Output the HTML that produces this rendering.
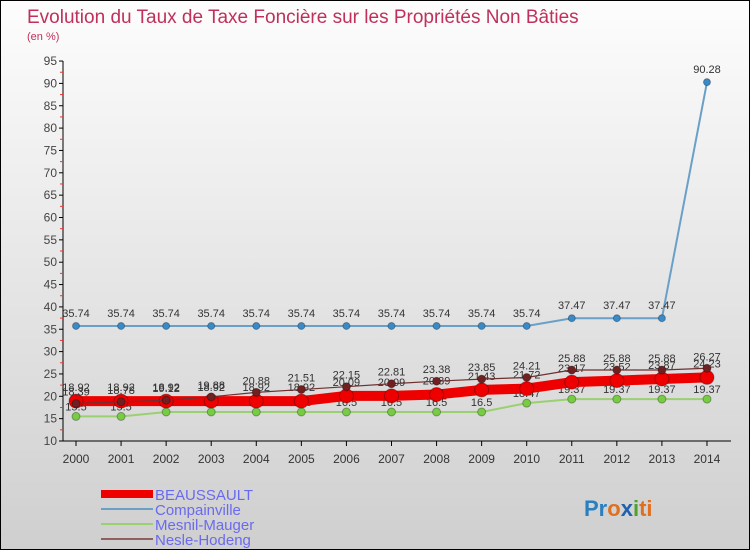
<!DOCTYPE html>
<html><head><meta charset="utf-8"><style>
body{margin:0}
#c{width:748px;height:548px;border:1px solid #000;background:linear-gradient(#fdfdfd,#cfcfcf);position:relative;font-family:"Liberation Sans",sans-serif;overflow:hidden}
</style></head><body>
<div id="c">
<svg id="s" width="748" height="548" xmlns="http://www.w3.org/2000/svg">
<text x="26" y="22" font-size="19" fill="#c0305a">Evolution du Taux de Taxe Foncière sur les Propriétés Non Bâties</text>
<text x="26" y="39" font-size="11" fill="#c0305a">(en %)</text>
<g id="ax"></g><g id="ser"></g>
<g font-size="15" fill="#6a6af0">
<rect x="100" y="489" width="52" height="8" fill="#e00"/>
<text x="154" y="499">BEAUSSAULT</text>
<rect x="100" y="507" width="52" height="2" fill="#6aa0c8"/>
<text x="154" y="514">Compainville</text>
<rect x="100" y="522" width="52" height="2" fill="#9ad070"/>
<text x="154" y="529">Mesnil-Mauger</text>
<rect x="100" y="537" width="52" height="2" fill="#906060"/>
<text x="154" y="544">Nesle-Hodeng</text>
</g>
<g font-size="22" font-weight="bold">
<text x="583" y="515"><tspan fill="#2a7fc0">Pr</tspan><tspan fill="#e07020">o</tspan><tspan fill="#2060b0">x</tspan><tspan fill="#50a030">i</tspan><tspan fill="#e07020">ti</tspan></text>
</g>
</svg></div>
<script>
const years=[2000,2001,2002,2003,2004,2005,2006,2007,2008,2009,2010,2011,2012,2013,2014];
const yTicks=[10,15,20,25,30,35,40,45,50,55,60,65,70,75,80,85,90,95];
const beaussault=[18.92,18.92,18.92,18.92,18.92,18.92,20.09,20.09,20.39,21.43,21.72,23.17,23.52,23.87,24.23];
const compainville=[35.74,35.74,35.74,35.74,35.74,35.74,35.74,35.74,35.74,35.74,35.74,37.47,37.47,37.47,90.28];
const mesnil=[15.5,15.5,16.5,16.5,16.5,16.5,16.5,16.5,16.5,16.5,18.47,19.37,19.37,19.37,19.37];
const nesle=[18.39,18.78,19.12,19.88,20.88,21.51,22.15,22.81,23.38,23.85,24.21,25.88,25.88,25.88,26.27];
const NS="http://www.w3.org/2000/svg";
const X=i=>75+i*45.07, Y=v=>440-(v-10)*4.47;
function mk(t,a,p){const e=document.createElementNS(NS,t);for(const k in a)e.setAttribute(k,a[k]);p.appendChild(e);return e;}
const ax=document.getElementById('ax'), ser=document.getElementById('ser');
const yl=mk('line',{x1:62,y1:Y(95),x2:62,y2:440,stroke:'#000'},ax);


mk('line',{x1:62,y1:440,x2:730,y2:440,stroke:'#000'},ax);
yTicks.forEach(v=>{
 mk('line',{x1:58,y1:Y(v),x2:62,y2:Y(v),stroke:'#000'},ax);
 if(v<95)mk('line',{x1:59,y1:Y(v+2.5),x2:62,y2:Y(v+2.5),stroke:'#e33'},ax);
 const t=mk('text',{x:56,y:Y(v)+4,'font-size':12,fill:'#444','text-anchor':'end'},ax);t.textContent=v;
 
 
});
years.forEach((y,i)=>{
 mk('line',{x1:X(i),y1:440,x2:X(i),y2:445,stroke:'#000'},ax);
 const t=mk('text',{x:X(i),y:462,'font-size':12,fill:'#333','text-anchor':'middle'},ax);t.textContent=y;
 
 
});
function series(d,name,col,w,r,dot,lblDy){
 const g=mk('g',{},ser);
 
 
 mk('polyline',{points:d.map((v,i)=>X(i)+','+Y(v)).join(' '),fill:'none',stroke:col,'stroke-width':w},g);
 d.forEach((v,i)=>{
  const c=mk('circle',{cx:X(i),cy:Y(v),r:r,fill:dot,stroke:'rgba(0,0,0,0.3)'},g);
  
  
  const t=mk('text',{x:X(i),y:Y(v)+lblDy,'font-size':11,fill:'#333','text-anchor':'middle'},g);t.textContent=v;
  
  
 });
}
series(mesnil,'mesnil-mauger','#9ad070',2,4,'#7c4',-6);
series(beaussault,'beaussault','#e00',10,7,'#e00',-10);
series(compainville,'compainville','#6aa0c8',2,3.5,'#3a8ac8',-9);
series(nesle,'nesle-hodeng','#703030',1.2,4,'#702020',-8);
</script>
</body></html>
